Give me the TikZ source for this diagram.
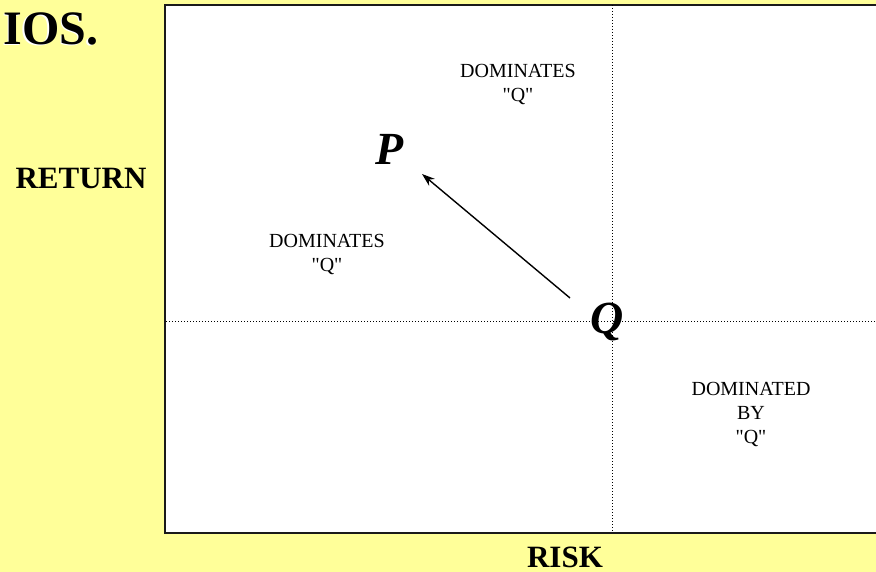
\documentclass[tikz,border=0pt]{standalone}
\usepackage{fontspec}
\setmainfont{Liberation Serif}
\newfontfamily\lblfont{Liberation Serif}[Ligatures=TeXOff]
\usetikzlibrary{arrows.meta}
\definecolor{bgyellow}{HTML}{FFFF99}
\definecolor{frame}{HTML}{1A1A1A}
\tikzset{
  lbl/.style={font=\lblfont\fontsize{20}{24}\selectfont, align=center, anchor=base, inner sep=0pt},
  axis/.style={font=\bfseries\fontsize{31}{34}\selectfont, anchor=base, inner sep=0pt},
  pt/.style={font=\bfseries\itshape\fontsize{46}{50}\selectfont, anchor=base, inner sep=0pt},
  divider/.style={line width=1pt, dash pattern=on 1pt off 2pt, black},
  arr/.style={line width=1.4pt, -{Stealth[length=13pt,width=9pt]}}
}
\begin{document}
\begin{tikzpicture}[x=1pt,y=-1pt]
\useasboundingbox (0,0) rectangle (876,572);
\clip (0,0) rectangle (876,572);
\fill[bgyellow] (0,0) rectangle (876,572);
% title fragment
\node[font=\bfseries\fontsize{48}{52}\selectfont, anchor=base west, inner sep=0pt, text=white] (titleshadow) at (2,46) {IOS.};
\node[font=\bfseries\fontsize{48}{52}\selectfont, anchor=base west, inner sep=0pt] (title) at (3.5,44.5) {IOS.};
% chart frame
\draw[frame, line width=2pt, fill=white] (165,5) rectangle (890,533);
\draw[divider] (612,5) -- (612,532);
\draw[divider] (166,321) -- (876,321);
% axis labels
\node[axis] (ret) at (81,189) {RETURN};
\node[axis] (risk) at (565,567) {RISK};
% region labels (base = last line)
\node[lbl] (topdom) at (518,102) {DOMINATES\\"Q"};
\node[lbl] (leftdom) at (327,272) {DOMINATES\\"Q"};
\node[lbl] (rightdom) at (751,443) {DOMINATED\\BY\\"Q"};
% points
\node[pt] (p) at (390,165) {P};
\node[pt] (q) at (607,334) {Q};
\coordinate (qtail) at (570,298);
\coordinate (phead) at (422,174);
\draw[arr] (qtail) -- (phead);
\end{tikzpicture}
\end{document}
